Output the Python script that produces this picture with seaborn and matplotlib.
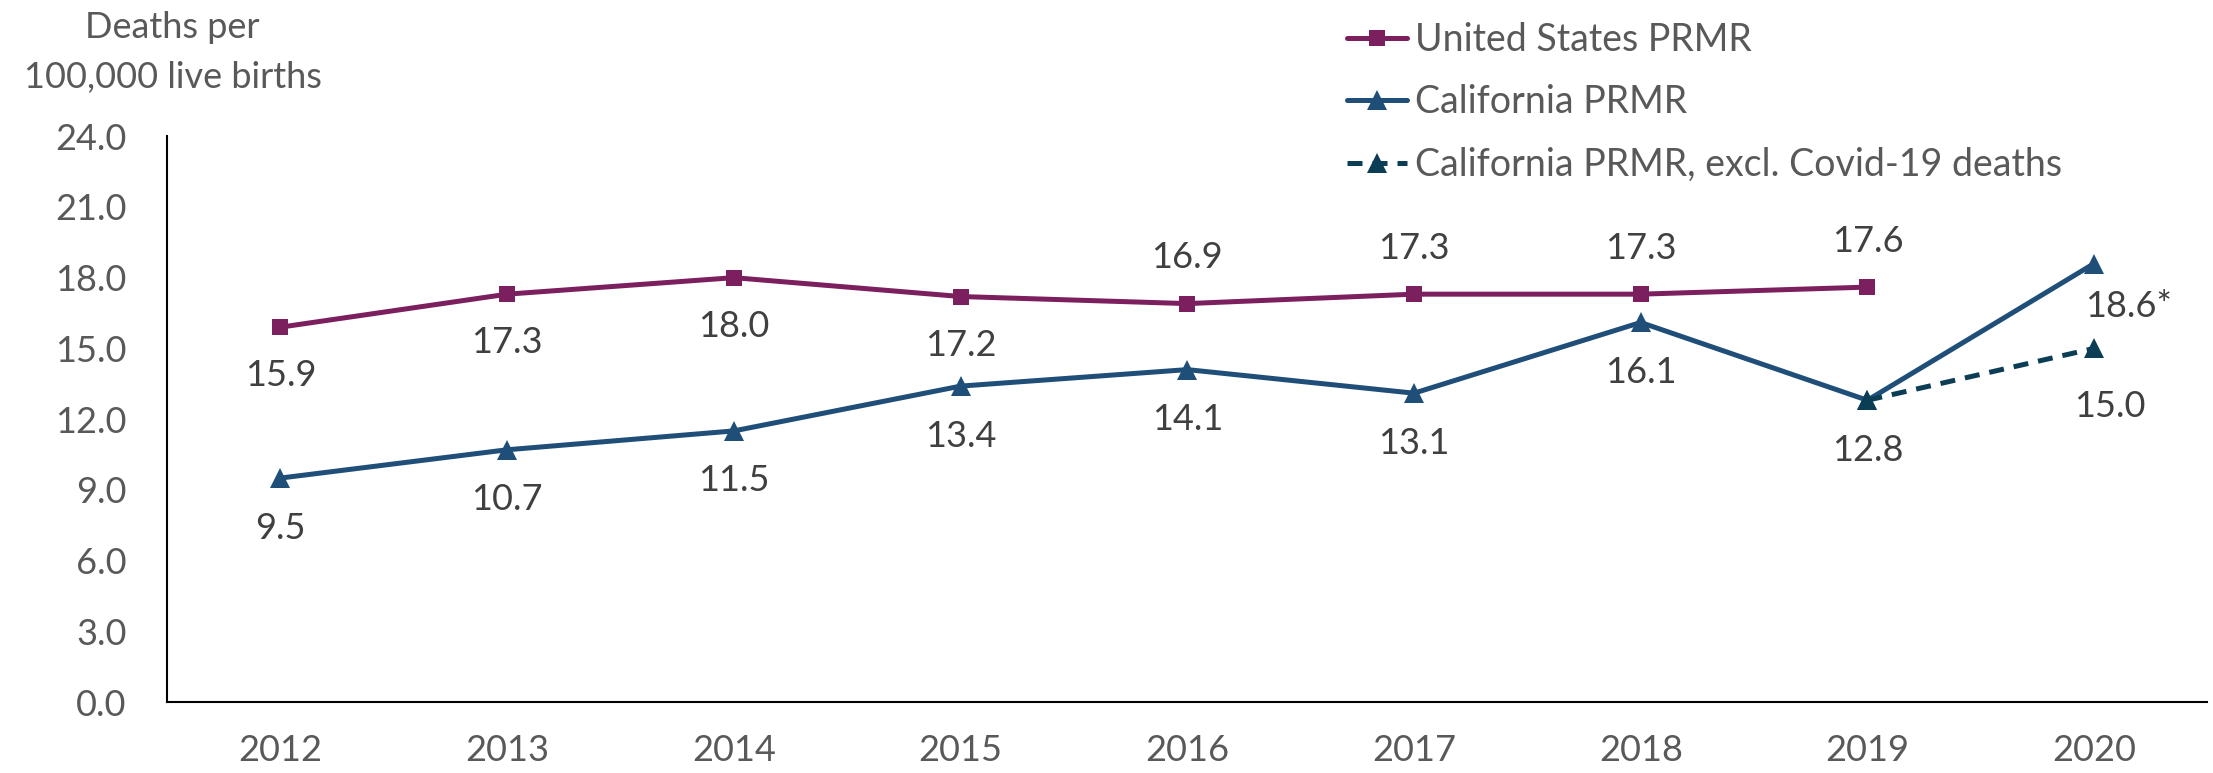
import numpy as np
import pandas as pd
import matplotlib
matplotlib.use("Agg")
import matplotlib.pyplot as plt
import seaborn as sns

years = ["2012", "2013", "2014", "2015", "2016", "2017", "2018", "2019", "2020"]
us_prmr = [15.9, 17.3, 18.0, 17.2, 16.9, 17.3, 17.3, 17.6, np.nan]
ca_prmr = [9.5, 10.7, 11.5, 13.4, 14.1, 13.1, 16.1, 12.8, 18.6]
ca_excl_years = ["2019", "2020"]
ca_excl = [12.8, 15.0]

us_label_pos = ["below", "below", "below", "below", "above", "above", "above", "above"]
ca_text = ["9.5", "10.7", "11.5", "13.4", "14.1", "13.1", "16.1", "12.8", "18.6*"]

sns.set_style("white")
plt.rcParams["font.family"] = ["Lato", "DejaVu Sans"]

us_color = "#7b1f5f"
ca_color = "#1f4e79"
excl_color = "#0b3d55"
text_gray = "#595959"
label_gray = "#404040"

fig = plt.figure(figsize=(22.13, 7.73), dpi=100)
ax = fig.add_axes([0.0755, 0.0918, 0.922, 0.732])

xpos = {y: i for i, y in enumerate(years)}
df_us = pd.DataFrame({"x": [xpos[y] for y in years], "v": us_prmr}).dropna()
df_ca = pd.DataFrame({"x": [xpos[y] for y in years], "v": ca_prmr})
df_ex = pd.DataFrame({"x": [xpos[y] for y in ca_excl_years], "v": ca_excl})

sns.lineplot(data=df_us, x="x", y="v", ax=ax, color=us_color, lw=3.6, marker="s",
             markersize=12, markeredgewidth=0, label="United States PRMR")
sns.lineplot(data=df_ca, x="x", y="v", ax=ax, color=ca_color, lw=3.6, marker="^",
             markersize=15, markeredgewidth=0, label="California PRMR")
sns.lineplot(data=df_ex, x="x", y="v", ax=ax, color=excl_color, lw=3.6, marker="^",
             markersize=15, markeredgewidth=0, label="California PRMR, excl. Covid-19 deaths")
ax.lines[-1].set_dashes([3, 2])

fs = 26
for i, (v, pos) in enumerate(zip(df_us["v"], us_label_pos)):
    off = 33 if pos == "above" else -35
    ax.annotate(f"{v:.1f}", (i, v), xytext=(0, off), textcoords="offset points",
                ha="center", va="center", fontsize=fs, color=label_gray)
for i, (v, t) in enumerate(zip(ca_prmr, ca_text)):
    if i == 8:
        ax.annotate(t, (i, v), xytext=(25, -31), textcoords="offset points",
                    ha="center", va="center", fontsize=fs, color=label_gray)
    else:
        ax.annotate(t, (i, v), xytext=(0, -36), textcoords="offset points",
                    ha="center", va="center", fontsize=fs, color=label_gray)
ax.annotate(f"{ca_excl[1]:.1f}", (xpos["2020"], ca_excl[1]), xytext=(11, -42),
            textcoords="offset points", ha="center", va="center", fontsize=fs, color=label_gray)

ax.set_xlim(-0.5, 8.5)
ax.set_ylim(0, 24)
ax.set_xticks(range(len(years)))
ax.set_xticklabels(years)
ax.set_yticks(np.arange(0, 24.1, 3))
ax.set_yticklabels([f"{t:.1f}" for t in np.arange(0, 24.1, 3)])
ax.tick_params(axis="both", labelsize=fs, colors=text_gray, length=0)
ax.tick_params(axis="x", pad=23)
ax.tick_params(axis="y", pad=29)
ax.set_xlabel("")
ax.set_ylabel("")
for s in ["top", "right"]:
    ax.spines[s].set_visible(False)
for s in ["left", "bottom"]:
    ax.spines[s].set_color("black")
    ax.spines[s].set_linewidth(1.5)

fig.text(0.078, 0.932, "Deaths per\n100,000 live births", ha="center", va="center",
         fontsize=fs, color=text_gray, linespacing=1.65)

leg = ax.legend(loc="upper left", bbox_to_anchor=(0.571, 1.228), frameon=False,
                fontsize=fs + 1, handlelength=1.6, handletextpad=0.2, labelspacing=0.7,
                borderaxespad=0)
for t in leg.get_texts():
    t.set_color(text_gray)

fig.savefig("out.png", dpi=100)
